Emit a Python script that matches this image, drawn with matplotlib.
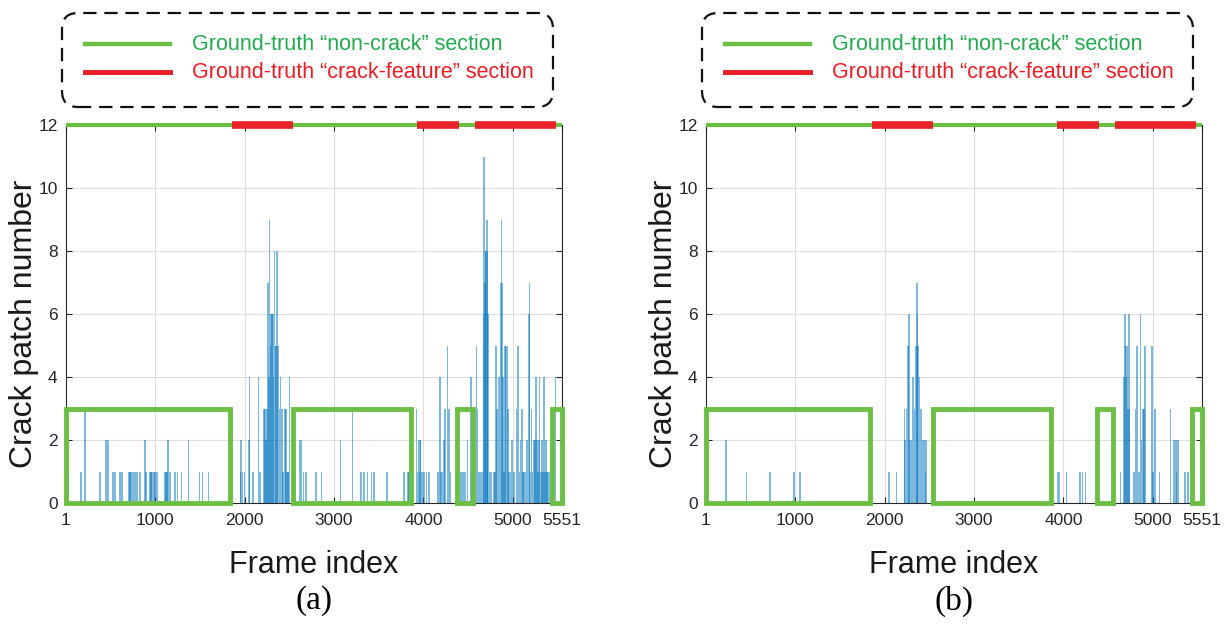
import matplotlib
matplotlib.use('Agg')
import matplotlib.pyplot as plt
from matplotlib.patches import Rectangle, FancyBboxPatch
from matplotlib.lines import Line2D

plt.rcParams['font.family'] = ['Liberation Sans', 'DejaVu Sans']

# ---- data ----
n_frames = 5551
xticks = [1, 1000, 2000, 3000, 4000, 5000, 5551]
yticks = [0, 2, 4, 6, 8, 10, 12]

# ground truth sections (frame ranges)
crack_sections = [(1855, 2545), (3930, 4395), (4575, 5485)]
noncrack_boxes = [(1, 1840), (2542, 3862), (4372, 4555), (5435, 5551)]

# (a) detected crack patches per frame
frames_a = [23, 168, 213, 380, 447, 470, 525, 548, 604, 626, 704, 715, 726, 749, 771,
            793, 827, 883, 894, 939, 950, 961, 984, 995, 1017, 1106, 1118, 1129, 1140,
            1162, 1218, 1251, 1296, 1374, 1497, 1530, 1597,
            1866, 1954, 1962, 1977, 1999, 2046, 2054, 2092, 2155, 2174, 2214, 2224, 2233,
            2240, 2250, 2259, 2268, 2277, 2279, 2288, 2297, 2306, 2315, 2325, 2334, 2345,
            2352, 2360, 2366, 2381, 2390, 2400, 2419, 2430, 2445, 2455, 2464, 2475, 2484,
            2493, 2501,
            2612, 2631, 2661, 2688, 2799, 2862, 3070, 3208, 3301, 3338, 3375, 3420, 3450,
            3591, 3784, 3829, 3840,
            3922, 3935, 3944, 3955, 3962, 3970, 3985, 4008, 4033, 4063, 4156, 4170, 4186,
            4195, 4212, 4231, 4242, 4268, 4287, 4306, 4418, 4444, 4466, 4491, 4533, 4540,
            4547, 4560, 4592, 4603, 4620, 4641, 4655, 4670, 4677, 4688, 4695, 4703, 4714,
            4720, 4725, 4741, 4752, 4760, 4789, 4800, 4815, 4826, 4845, 4864, 4875, 4882,
            4893, 4900, 4912, 4927, 4942, 4949, 4960, 4975, 4993, 5010, 5020, 5042, 5060,
            5075, 5087, 5105, 5115, 5124, 5142, 5161, 5180, 5187, 5200, 5209, 5220, 5235,
            5246, 5261, 5272, 5280, 5291, 5299, 5310, 5320, 5328, 5340, 5347, 5358, 5373,
            5385, 5395, 5410, 5478]
counts_a = [1, 1, 3, 1, 2, 2, 1, 1, 1, 1, 1, 1, 1, 1, 1,
            1, 1, 2, 1, 1, 1, 1, 1, 1, 1, 1, 1, 1, 2,
            1, 1, 1, 1, 2, 1, 1, 1,
            3, 1, 2, 1, 1, 2, 4, 1, 4, 1, 3, 3, 3,
            2, 3, 7, 4, 9, 4, 5, 6, 6, 6, 4, 8, 5,
            5, 8, 5, 5, 3, 4, 3, 1, 3, 3, 3, 1, 1,
            1, 4,
            2, 2, 1, 1, 1, 1, 2, 3, 1, 1, 1, 1, 1,
            1, 1, 1, 1,
            3, 1, 2, 1, 2, 2, 1, 1, 1, 1, 1, 1, 4,
            1, 1, 2, 3, 5, 3, 1, 1, 1, 1, 2, 4, 1,
            1, 1, 5, 3, 1, 1, 1, 6, 11, 7, 8, 8, 9,
            8, 6, 1, 1, 1, 1, 1, 5, 3, 4, 7, 9, 7,
            4, 1, 5, 5, 5, 3, 1, 1, 2, 1, 1, 3, 5,
            1, 2, 3, 1, 1, 1, 2, 6, 7, 1, 3, 1, 2,
            2, 4, 2, 1, 2, 4, 1, 1, 2, 1, 4, 1, 2,
            1, 1, 1, 4]

# (b) detected crack patches per frame
frames_b = [224, 455, 715, 987, 1050,
            2047, 2130, 2223, 2228, 2242, 2262, 2270, 2279, 2297, 2316, 2334, 2353, 2360,
            2365, 2372, 2390, 2409, 2427, 2446, 2455, 2465,
            3933, 3952, 4034, 4187, 4212, 4250, 4548, 4555, 4637, 4680, 4689, 4697, 4705,
            4712, 4722, 4733, 4740, 4789, 4808, 4826, 4845, 4864, 4875, 4889, 4900, 4911,
            4993, 5000, 5023, 5075, 5198, 5235, 5261, 5264, 5283, 5358, 5395]
counts_b = [2, 1, 1, 1, 1,
            1, 1, 3, 2, 3, 5, 6, 2, 2, 4, 3, 5, 7,
            6, 5, 4, 3, 2, 2, 1, 2,
            1, 1, 1, 1, 1, 1, 1, 2, 1, 4, 6, 5, 4,
            5, 3, 6, 3, 1, 3, 5, 1, 6, 2, 3, 3, 5,
            5, 1, 3, 1, 3, 2, 2, 1, 2, 1, 1]

GREEN = '#6cbf45'
RED = '#e8232b'
GREEN_TXT = '#22aa4e'
RED_TXT = '#ec1c24'
BLUE = '#0072BD'

W, H = 1226, 626
fig = plt.figure(figsize=(W / 100, H / 100), dpi=100)


def draw_panel(left_px, frames, counts, tag):
    ax = fig.add_axes([left_px / W, 1 - 503 / H, 496 / W, 378 / H])
    ax.bar(frames, counts, width=17, color=BLUE, alpha=0.5, linewidth=0, zorder=2)

    for x0, x1 in noncrack_boxes:
        ax.add_patch(Rectangle((x0, 0), x1 - x0, 3, fill=False, ec=GREEN, lw=3.5,
                               clip_on=False, zorder=4))

    ax.plot([1, n_frames], [12, 12], color=GREEN, lw=3, solid_capstyle='butt',
            clip_on=False, zorder=5)
    for s, e in crack_sections:
        ax.plot([s, e], [12, 12], color=RED, lw=5.5, solid_capstyle='butt',
                clip_on=False, zorder=6)

    ax.set_xlim(1, n_frames)
    ax.set_ylim(0, 12)
    ax.set_xticks(xticks)
    ax.set_yticks(yticks)
    ax.grid(True, color='#dedede', lw=0.8)
    ax.set_axisbelow(True)
    ax.tick_params(direction='in', length=4, width=0.8, top=True, right=True,
                   labelsize=12.5, colors='#262626', pad=7)
    ax.tick_params(axis='y', pad=6)
    for sp in ax.spines.values():
        sp.set_color('#262626')
        sp.set_linewidth(0.8)

    ax.set_xlabel('Frame index', fontsize=22, color='#1a1a1a')
    ax.xaxis.set_label_coords(0.5, -0.125)
    ax.set_ylabel('Crack patch number', fontsize=23, color='#1a1a1a')
    ax.yaxis.set_label_coords(-0.054, 0.475)

    # dashed legend box above the axes
    bx0, bx1 = left_px - 4, left_px + 487
    by0, by1 = H - 107, H - 13
    r = 16
    box = FancyBboxPatch((bx0 / W, by0 / H), (bx1 - bx0) / W, (by1 - by0) / H,
                         boxstyle='round,pad=0,rounding_size=%f' % (r / W),
                         mutation_aspect=W / H, transform=fig.transFigure,
                         fill=False, ec='#111111', lw=1.6, ls=(0, (6, 3.5)))
    fig.patches.append(box)
    fig.lines.append(Line2D([(left_px + 19) / W, (left_px + 104) / W], [1 - 44 / H] * 2,
                            transform=fig.transFigure, color=GREEN, lw=3.2))
    fig.lines.append(Line2D([(left_px + 19) / W, (left_px + 104) / W], [1 - 72 / H] * 2,
                            transform=fig.transFigure, color=RED, lw=3.6))
    fig.text((left_px + 126) / W, 1 - 44 / H, 'Ground-truth \u201cnon-crack\u201d section',
             color=GREEN_TXT, fontsize=15.5, ha='left', va='center')
    fig.text((left_px + 126) / W, 1 - 72 / H, 'Ground-truth \u201ccrack-feature\u201d section',
             color=RED_TXT, fontsize=15.5, ha='left', va='center')

    fig.text((left_px + 248) / W, 1 - 601 / H, tag, fontsize=24, ha='center', va='center',
             family=['Liberation Serif', 'DejaVu Serif'])
    return ax


draw_panel(66, frames_a, counts_a, '(a)')
draw_panel(706, frames_b, counts_b, '(b)')

fig.savefig('out.png', dpi=100)
